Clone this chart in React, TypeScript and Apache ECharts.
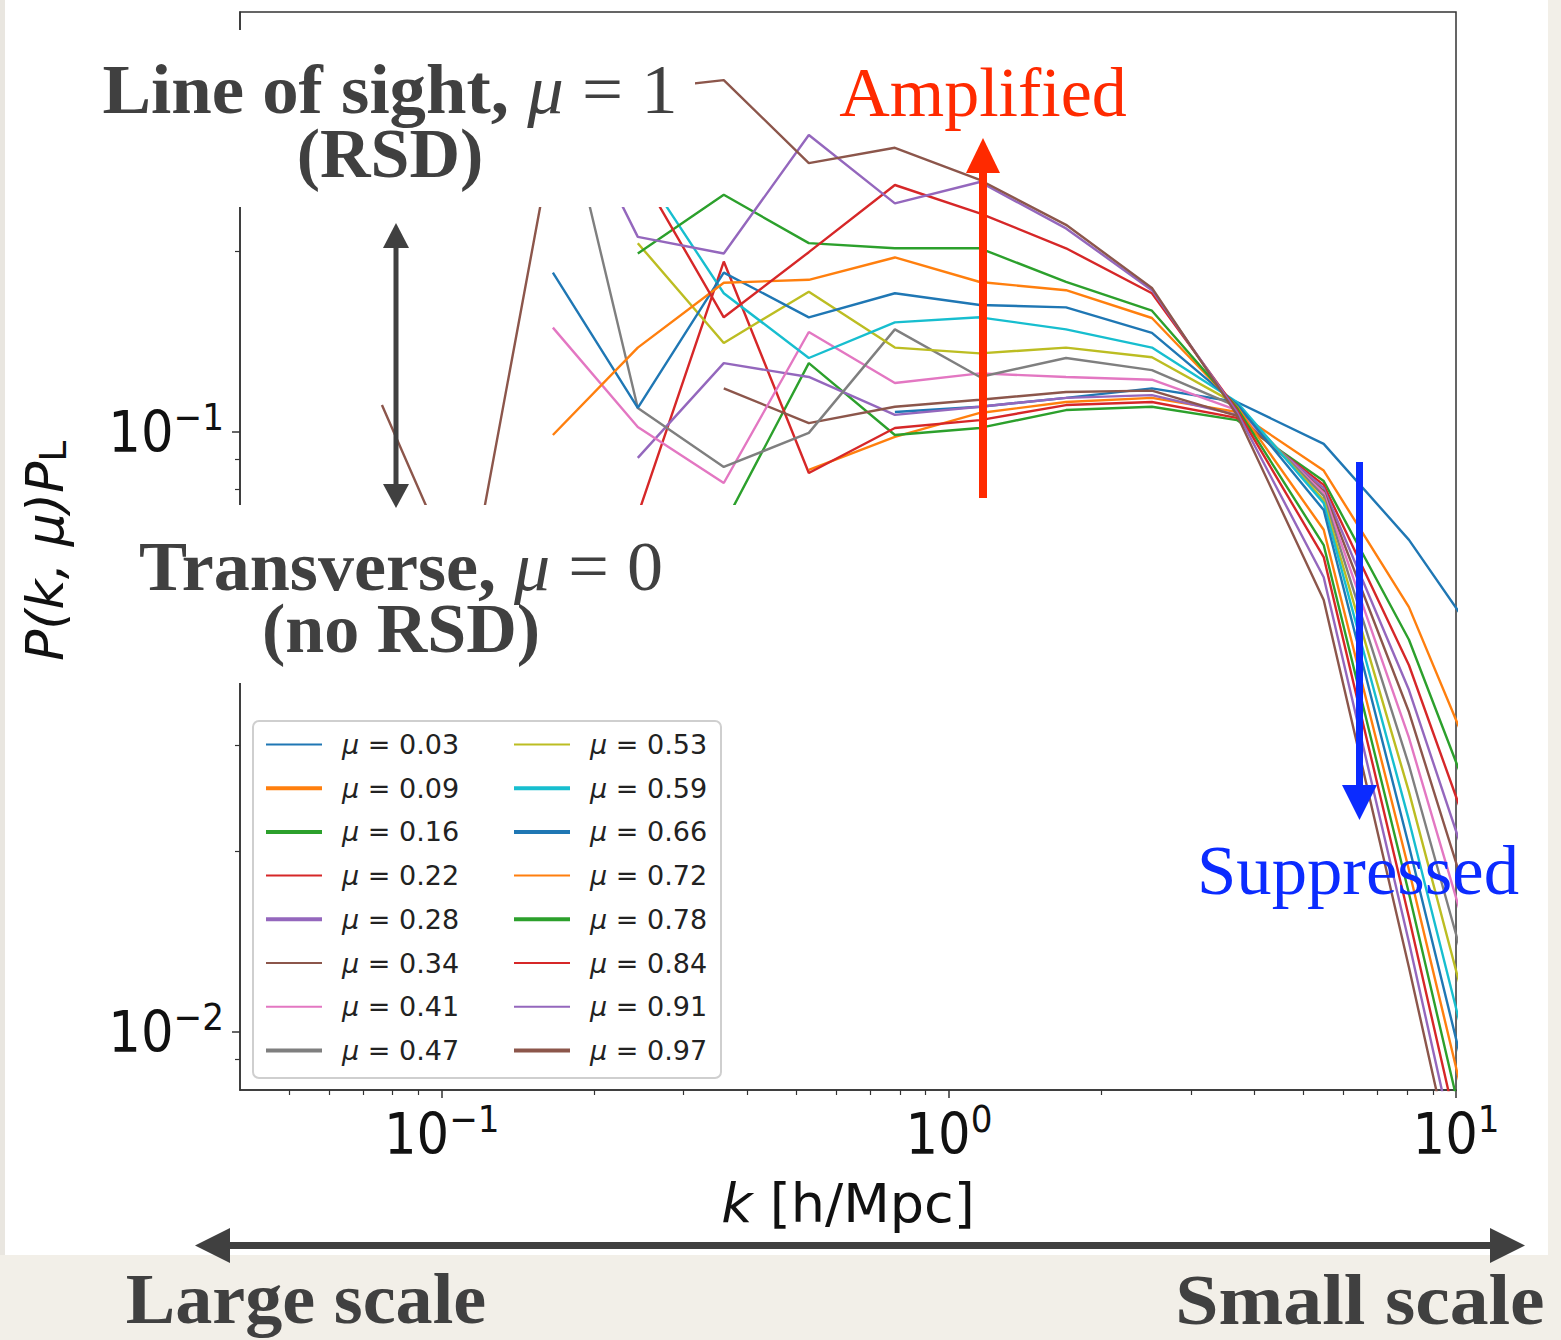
import React, { useEffect, useRef } from "react";
import * as echarts from "echarts";

// k bins [h/Mpc]
const kBins = [0.0762, 0.1123, 0.1656, 0.2435, 0.3598, 0.5294, 0.7825, 1.151, 1.702, 2.514, 3.698, 5.484, 8.077, 11.89];

const muLabels = ["0.03", "0.09", "0.16", "0.22", "0.28", "0.34", "0.41", "0.47", "0.53", "0.59", "0.66", "0.72", "0.78", "0.84", "0.91", "0.97"];

// P(k, mu) P_L values, one array per mu bin (null = not drawn)
const pMu003 = [null, null, null, null, null, null, 0.1078, 0.110, 0.1138, 0.118, 0.112, 0.0954, 0.066, 0.0412];
const pMu009 = [null, null, null, null, null, 0.0863, 0.098, 0.1074, 0.112, 0.1138, 0.1078, 0.0861, 0.051, 0.0233];
const pMu016 = [null, null, null, null, 0.0699, 0.130, 0.0987, 0.1014, 0.1086, 0.110, 0.1045, 0.0827, 0.045, 0.01925];
const pMu022 = [null, null, null, 0.0726, 0.192, 0.0853, 0.1014, 0.1045, 0.1107, 0.112, 0.1054, 0.0815, 0.0408, 0.01639];
const pMu028 = [null, null, null, 0.0904, 0.130, 0.1233, 0.1066, 0.110, 0.1138, 0.115, 0.1066, 0.0805, 0.0371, 0.01395];
const pMu034 = [null, null, null, null, 0.118, 0.1033, 0.110, 0.113, 0.1164, 0.117, 0.1062, 0.0796, 0.0341, 0.01201];
const pMu041 = [null, null, 0.149, 0.1018, 0.0821, 0.1465, 0.1205, 0.125, 0.1233, 0.122, 0.1086, 0.079, 0.0309, 0.01019];
const pMu047 = [null, null, 0.429, 0.1095, 0.0873, 0.0995, 0.148, 0.1233, 0.1326, 0.1266, 0.110, 0.0781, 0.0278, 0.0086];
const pMu053 = [null, null, null, 0.206, 0.1405, 0.171, 0.138, 0.135, 0.138, 0.133, 0.111, 0.0769, 0.0251, 0.00727];
const pMu059 = [null, null, 0.343, 0.280, 0.170, 0.1326, 0.152, 0.155, 0.148, 0.138, 0.112, 0.076, 0.0225, 0.00612];
const pMu066 = [null, null, 0.184, 0.1095, 0.184, 0.155, 0.170, 0.1625, 0.161, 0.146, 0.111, 0.074, 0.0204, 0.00535];
const pMu072 = [null, null, 0.0987, 0.138, 0.177, 0.179, 0.195, 0.1775, 0.172, 0.1546, 0.110, 0.0686, 0.0186, 0.00473];
const pMu078 = [null, null, null, 0.198, 0.248, 0.206, 0.202, 0.202, 0.1775, 0.159, 0.1095, 0.0647, 0.0170, 0.00417];
const pMu084 = [null, null, 0.331, 0.274, 0.155, 0.199, 0.2575, 0.231, 0.202, 0.170, 0.1086, 0.0618, 0.0155, 0.00369];
const pMu091 = [null, null, 0.405, 0.211, 0.198, 0.312, 0.240, 0.2605, 0.218, 0.172, 0.1078, 0.0572, 0.0141, 0.00325];
const pMu097 = [0.1107, 0.0524, 0.308, 0.371, 0.385, 0.280, 0.297, 0.2625, 0.221, 0.1735, 0.1066, 0.0524, 0.0128, 0.00295];

const pSeries = [pMu003, pMu009, pMu016, pMu022, pMu028, pMu034, pMu041, pMu047, pMu053, pMu059, pMu066, pMu072, pMu078, pMu084, pMu091, pMu097];

const seriesColors = ["#1f77b4", "#ff7f0e", "#2ca02c", "#d62728", "#9467bd", "#8c564b", "#e377c2", "#7f7f7f", "#bcbd22", "#17becf", "#1f77b4", "#ff7f0e", "#2ca02c", "#d62728", "#9467bd", "#8c564b"];
const legendLineWidths = [2, 4, 4, 2, 4, 2, 2, 4, 2, 4, 4, 2, 4, 2, 2, 4];

const kRange = [0.04, 10];
const pRange = [0.008, 0.5];
const xMajorTicks = [0.1, 1, 10];
const xMinorTicks = [0.05, 0.06, 0.07, 0.08, 0.09, 0.2, 0.3, 0.4, 0.5, 0.6, 0.7, 0.8, 0.9, 2, 3, 4, 5, 6, 7, 8, 9];
const yMajorTicks = [0.01, 0.1];
const yMinorTicks = [0.009, 0.02, 0.03, 0.04, 0.05, 0.06, 0.07, 0.08, 0.09, 0.2, 0.3, 0.4];

const lg = (v: number) => Math.log10(v);
const SERIF = '"Liberation Serif", "DejaVu Serif", serif';
const SANSC = '"DejaVu Sans Condensed", "DejaVu Sans", sans-serif';
const SANS = '"DejaVu Sans", sans-serif';
const DARK = "#404040";
const BEIGE = "#f2efe8";

function supLabel(v: number) {
  const e = Math.round(v);
  const s = e < 0 ? "\u2212" + Math.abs(e) : String(e);
  return "{b|10}{s|" + s + "}";
}

const tickRich = {
  b: { fontSize: 57, fontFamily: SANSC, color: "#111", lineHeight: 60 },
  s: { fontSize: 38, fontFamily: SANSC, color: "#111", padding: [0, 0, 30, 0] },
};

export default function App() {
  const ref = useRef<HTMLDivElement>(null);
  useEffect(() => {
    if (!ref.current) return;
    const chart = echarts.init(ref.current, undefined, { renderer: "svg" });

    const series = pSeries.map((arr, i) => ({
      name: "\u03bc = " + muLabels[i],
      type: "line",
      xAxisIndex: 0,
      yAxisIndex: 0,
      showSymbol: false,
      symbol: "none",
      z: 2 + i * 0.01,
      lineStyle: { width: 2.4, color: seriesColors[i] },
      itemStyle: { color: seriesColors[i] },
      emphasis: { disabled: true },
      data: arr
        .map((p, j) => (p == null ? null : [lg(kBins[j]), lg(p)]))
        .filter((d) => d != null),
    }));

    const legendCommon = {
      orient: "vertical",
      top: 731,
      itemWidth: 56,
      itemHeight: 14,
      itemGap: 16.7,
      padding: 0,
      selectedMode: false,
      z: 6,
      itemStyle: { opacity: 0, borderWidth: 0 },
      formatter: (name: string) => "{m|\u03bc}{r| = " + name.slice(4) + "}",
      textStyle: {
        padding: [0, 0, 0, 15],
        rich: {
          m: { fontSize: 27, fontFamily: SANS, fontStyle: "italic", color: "#222", lineHeight: 26 },
          r: { fontSize: 27, fontFamily: SANS, color: "#222", lineHeight: 26 },
        },
      },
    };
    const names = muLabels.map((m) => "\u03bc = " + m);
    const legendData = names.map((n, i) => ({ name: n, lineStyle: { width: legendLineWidths[i] }, itemStyle: { opacity: 0 } }));

    const rect = (x: number, y: number, w: number, h: number, fill: string, z: number) => ({
      type: "rect",
      z,
      silent: true,
      shape: { x, y, width: w, height: h },
      style: { fill },
    });
    const poly = (pts: number[][], fill: string, z: number) => ({
      type: "polygon",
      z,
      silent: true,
      shape: { points: pts },
      style: { fill },
    });
    const txt = (x: number, y: number, text: string, rich: any, fill: string, scaleX = 1) => ({
      type: "text",
      z: 30,
      silent: true,
      x,
      y,
      scaleX,
      style: { text, x: 0, y: 0, align: "center", verticalAlign: "middle", fill, rich },
    });

    const bold = (size: number) => ({ fontFamily: SERIF, fontWeight: "bold", fontSize: size, lineHeight: 60, color: DARK, fill: DARK });
    const math = (size: number) => ({ fontFamily: SERIF, fontStyle: "italic", fontSize: size, lineHeight: 60, color: DARK, fill: DARK });
    const reg = (size: number, c: string) => ({ fontFamily: SERIF, fontSize: size, lineHeight: 60, color: c, fill: c });

    const option: any = {
      animation: false,
      backgroundColor: "#ffffff",
      grid: { left: 240, top: 12, width: 1216, height: 1078, show: true, borderColor: "#333", borderWidth: 1.5, backgroundColor: "transparent" },
      xAxis: [
        {
          type: "value",
          min: lg(kRange[0]),
          max: lg(kRange[1]),
          position: "bottom",
          axisLine: { show: true, onZero: false, lineStyle: { color: "#333", width: 1.5 } },
          splitLine: { show: false },
          axisTick: { show: true, customValues: xMajorTicks.map(lg), length: 8, lineStyle: { color: "#333", width: 1.5 } },
          axisLabel: { show: true, customValues: xMajorTicks.map(lg), formatter: supLabel, margin: 10, rich: tickRich },
          name: "{i|k}{r| [h/Mpc]}",
          nameLocation: "middle",
          nameGap: 86,
          nameTextStyle: {
            rich: {
              i: { fontSize: 54, fontFamily: SANS, fontStyle: "italic", color: "#111" },
              r: { fontSize: 54, fontFamily: SANS, color: "#111" },
            },
          },
        },
        {
          type: "value",
          min: lg(kRange[0]),
          max: lg(kRange[1]),
          position: "bottom",
          axisLine: { show: false, onZero: false },
          splitLine: { show: false },
          axisTick: { show: true, customValues: xMinorTicks.map(lg), length: 5, lineStyle: { color: "#333", width: 1.2 } },
          axisLabel: { show: false },
        },
      ],
      yAxis: [
        {
          type: "value",
          min: lg(pRange[0]),
          max: lg(pRange[1]),
          position: "left",
          axisLine: { show: true, onZero: false, lineStyle: { color: "#333", width: 1.5 } },
          splitLine: { show: false },
          axisTick: { show: true, customValues: yMajorTicks.map(lg), length: 8, lineStyle: { color: "#333", width: 1.5 } },
          axisLabel: { show: true, customValues: yMajorTicks.map(lg), formatter: supLabel, margin: 16, rich: tickRich },
          name: "{i|P(k, \u03bc)P}{s|L}",
          nameLocation: "middle",
          nameRotate: 90,
          nameGap: 168,
          nameTextStyle: {
            rich: {
              i: { fontSize: 52, fontFamily: SANS, fontStyle: "italic", color: "#111" },
              s: { fontSize: 37, fontFamily: SANS, color: "#111", padding: [18, 0, 0, 0] },
            },
          },
        },
        {
          type: "value",
          min: lg(pRange[0]),
          max: lg(pRange[1]),
          position: "left",
          axisLine: { show: false, onZero: false },
          splitLine: { show: false },
          axisTick: { show: true, customValues: yMinorTicks.map(lg), length: 5, lineStyle: { color: "#333", width: 1.2 } },
          axisLabel: { show: false },
        },
      ],
      legend: [
        { ...legendCommon, left: 264, data: legendData.slice(0, 8) },
        { ...legendCommon, left: 512, data: legendData.slice(8) },
      ],
      series,
      graphic: {
        elements: [
          // page background strips (beige)
          rect(1548, 0, 13, 1340, BEIGE, 1),
          rect(0, 1255, 1561, 85, BEIGE, 1),
          rect(0, 0, 5, 1255, "#e9e6e0", 1),
          // legend frame
          {
            type: "rect",
            z: 3,
            silent: true,
            shape: { x: 253, y: 721, width: 468, height: 357, r: 6 },
            style: { fill: "#ffffff", stroke: "#cfcfcf", lineWidth: 2 },
          },
          // white annotation boxes over the plot
          rect(5, 30, 690, 177, "#ffffff", 20),
          rect(90, 505, 670, 178, "#ffffff", 20),
          // texts
          txt(390, 89, "{b|Line of sight, }{m|\u03bc}{n| = 1}", { b: bold(70), m: math(70), n: reg(70, DARK) }, DARK, 1.04),
          txt(390, 153, "{b|(RSD)}", { b: bold(70) }, DARK, 1.0),
          txt(401, 566, "{b|Transverse, }{m|\u03bc}{n| = 0}", { b: bold(70), m: math(70), n: reg(70, DARK) }, DARK, 1.03),
          txt(401, 628, "{b|(no RSD)}", { b: bold(70) }, DARK, 1.0),
          txt(983, 92, "{a|Amplified}", { a: reg(70, "#ff2a00") }, "#ff2a00", 1.0),
          txt(1358, 870, "{a|Suppressed}", { a: reg(70, "#0b2bff") }, "#0b2bff", 1.01),
          txt(306, 1299, "{b|Large scale}", { b: bold(72) }, DARK, 1.03),
          txt(1360, 1299, "{b|Small scale}", { b: bold(72) }, DARK, 1.08),
          // gray double arrow (mu)
          rect(393.5, 247, 5, 238, DARK, 30),
          poly([[383, 248], [409, 248], [396, 223]], DARK, 30),
          poly([[383, 484], [409, 484], [396, 508]], DARK, 30),
          // red arrow
          rect(979, 170, 8, 328, "#ff2a00", 30),
          poly([[966, 173], [1000, 173], [983, 138]], "#ff2a00", 30),
          // blue arrow
          rect(1356, 462, 7, 325, "#0b2bff", 30),
          poly([[1342, 785], [1377, 785], [1359.5, 820]], "#0b2bff", 30),
          // bottom double arrow
          rect(228, 1242, 1264, 7, DARK, 30),
          poly([[230, 1228], [230, 1263], [195, 1245.5]], DARK, 30),
          poly([[1490, 1228], [1490, 1263], [1525, 1245.5]], DARK, 30),
        ],
      },
    };

    chart.setOption(option);
    return () => chart.dispose();
  }, []);

  return (
    <div
      ref={ref}
      style={{ position: "absolute", left: 0, top: 0, width: 1561, height: 1340 }}
    />
  );
}
